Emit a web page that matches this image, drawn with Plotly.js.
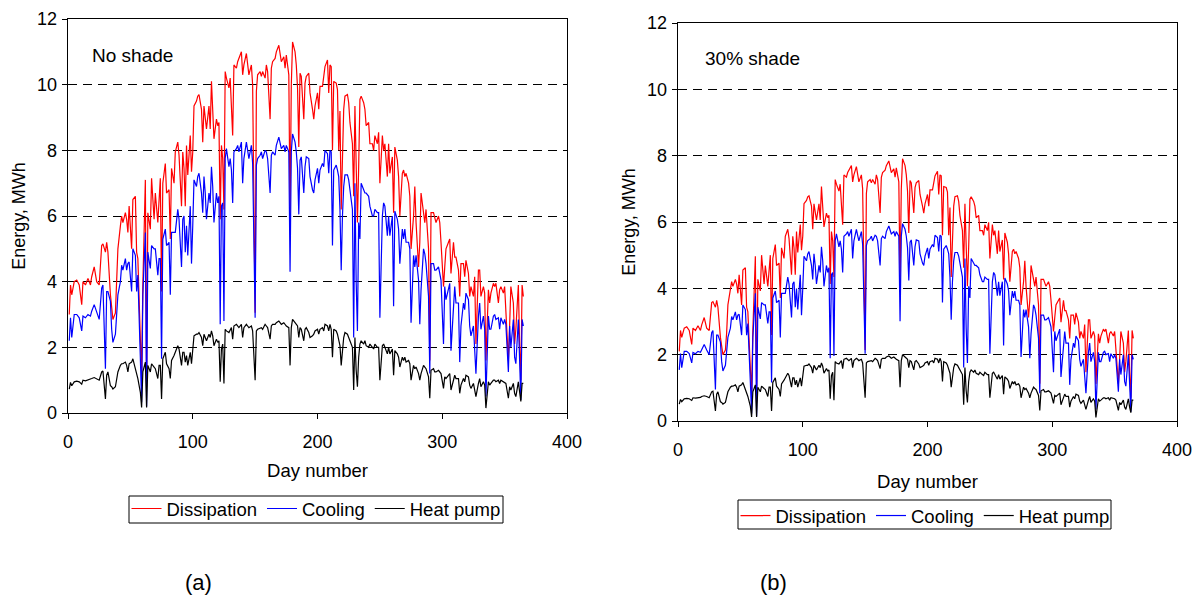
<!DOCTYPE html>
<html>
<head>
<meta charset="utf-8">
<script src="https://cdn.plot.ly/plotly-3.0.1.min.js"></script>
<style>html,body{margin:0;padding:0;background:#fff}#chart{width:1196px;height:598px}</style>
</head>
<body>
<div id="chart"></div>
<script>
// Day numbers (sample days)
const days = [
1,2,3,5,7,9,11,12,14,16,
18,19,21,23,25,27,28,30,31,32,
34,35,36,38,39,40,42,43,44,46,
47,48,49,51,52,54,55,56,58,59,
60,62,63,64,66,67,69,70,72,73,
74,75,76,78,79,81,82,83,85,86,
88,89,91,92,
93,94,95,96,98,99,100,101,103,104,
105,107,108,109,110,111,113,114,115,116,
117,119,120,121,122,123,124,125,126,127,
129,130,131,132,133,135,136,137,139,140,
141,143,144,145,147,148,150,151,152,154,
155,156,158,159,160,162,163,164,166,167,
169,170,171,173,174,175,177,178,179,180,
182,183,184,185,
186,187,189,190,191,193,194,196,197,198,
200,201,202,204,205,206,208,209,210,211,
212,213,215,216,217,218,219,220,221,222,
224,225,226,228,229,230,231,232,233,234,
235,237,238,239,241,242,244,245,246,248,
249,250,252,253,254,256,257,258,260,261,
262,264,265,266,268,269,270,271,273,274,
275,277,278,279,281,282,283,285,286,287,
289,290,291,293,294,295,297,298,299,301,
302,303,305,306,307,309,310,311,313,314,
315,317,318,319,321,322,323,325,326,327,
329,330,331,333,334,335,337,338,339,341,
342,343,345,346,347,349,350,351,353,354,
355,357,358,359,361,362,363,364,365];

// (a) No shade
const dissA = [
3.0,3.9,3.6,4.0,4.05,3.9,3.3,4.0,3.9,4.1,
3.9,4.15,4.45,4.0,3.9,5.1,5.15,4.9,5.2,4.9,
3.6,3.2,2.85,3.05,3.8,5.0,5.7,6.0,5.8,6.1,
5.9,5.5,6.3,5.0,6.5,6.6,4.9,4.7,2.25,1.25,
3.9,7.1,0.8,6.1,5.6,7.15,5.9,6.7,5.8,6.4,
7.15,3.7,7.0,7.6,6.7,6.8,5.3,7.45,7.0,7.95,
8.25,7.85,6.3,7.95,
7.45,6.3,8.15,7.25,8.45,7.35,7.95,9.35,9.5,9.65,
9.7,9.25,8.25,9.35,9.05,8.65,9.35,8.65,10.1,9.25,
8.35,8.95,8.75,8.85,5.9,8.15,7.75,6.2,10.4,10.2,
9.9,10.2,9.5,8.45,10.6,10.5,10.7,10.8,11.0,10.3,
10.6,10.95,10.7,10.3,10.6,10.0,3.05,9.8,10.3,10.4,
10.25,10.4,10.2,10.6,10.4,8.95,10.5,10.7,10.8,11.0,
11.2,10.9,10.7,10.85,10.5,10.9,10.3,6.0,10.0,11.3,
11.0,10.6,9.9,8.1,
10.35,10.25,8.95,10.05,10.25,10.35,9.75,9.25,8.95,9.35,
9.75,9.25,9.95,9.95,10.25,10.55,10.75,9.75,10.6,10.55,
8.0,10.1,10.05,9.85,8.0,9.2,6.2,7.9,9.25,9.65,
9.7,9.45,8.85,8.2,6.6,9.35,7.7,5.8,7.5,9.55,
9.65,9.45,9.25,8.75,8.85,8.2,8.2,8.0,8.45,8.2,
8.55,7.0,8.45,8.0,8.2,7.2,8.2,7.3,7.8,6.1,
8.1,7.7,7.2,6.0,7.3,7.4,7.2,7.3,7.0,6.6,
5.0,6.0,6.9,5.8,4.45,5.2,6.7,6.2,5.8,6.2,
5.0,1.6,6.1,6.1,5.9,5.8,6.0,5.8,5.2,3.85,
4.45,5.0,5.2,5.3,4.25,5.2,4.75,4.75,4.35,3.55,
4.55,4.55,4.15,4.65,4.25,3.55,3.85,3.55,4.15,2.1,
4.35,4.35,3.55,3.85,3.65,1.6,3.75,3.35,3.65,3.95,
3.85,3.95,3.35,3.75,3.85,3.65,3.85,3.15,1.6,2.65,
3.85,3.35,2.1,2.55,3.9,2.1,1.0,3.9,3.55];

const coolA = [
2.2,2.9,2.3,3.0,3.0,2.9,2.5,2.95,2.9,3.0,
2.95,3.1,3.3,3.05,2.85,3.8,3.9,1.35,3.7,3.7,
3.4,2.55,2.15,2.4,3.1,3.6,4.0,4.5,4.35,4.7,
4.35,4.55,4.6,3.7,5.0,4.8,3.7,4.2,1.65,0.33,
3.6,5.5,0.2,4.9,4.4,5.1,5.0,5.0,4.2,4.7,
4.7,1.65,5.3,5.6,5.1,5.2,3.6,5.5,5.5,5.5,
6.2,5.9,4.45,5.9,
6.0,4.9,5.7,4.8,6.3,4.55,5.7,7.1,6.9,7.2,
7.3,6.7,6.1,7.2,6.7,5.9,6.7,6.4,7.5,6.9,
5.8,6.7,6.4,6.6,2.7,6.3,6.4,2.8,7.75,8.05,
7.5,7.75,7.4,6.4,7.95,8.05,8.15,7.95,8.25,7.0,
7.75,8.25,8.0,7.75,8.15,7.6,2.9,7.55,7.75,7.85,
7.95,7.75,8.0,7.95,7.75,6.7,7.85,7.95,7.85,8.15,
8.4,8.25,8.05,8.15,7.95,8.15,7.95,4.3,7.95,8.5,
8.25,7.95,7.45,6.05,
7.7,7.8,6.7,7.5,7.8,7.75,7.2,6.8,6.7,7.1,
7.45,7.0,7.4,7.6,7.5,8.0,7.9,7.3,8.0,7.95,
5.1,7.4,7.55,7.4,7.2,6.2,4.35,6.0,6.9,7.25,
7.25,7.1,6.75,6.2,2.3,7.0,4.0,2.5,5.8,5.3,
7.0,6.8,6.7,6.7,6.6,6.3,6.0,6.0,6.2,6.1,
6.1,2.9,6.0,6.4,6.3,5.4,6.0,5.4,6.0,3.25,
6.15,5.9,5.6,4.55,5.6,5.3,5.6,5.2,5.2,5.0,
2.75,4.8,4.45,4.8,4.05,2.7,3.75,5.0,4.85,4.55,
3.55,1.2,4.55,4.55,4.35,4.35,4.45,4.25,4.05,2.1,
3.85,3.45,3.75,3.95,1.9,3.45,3.85,3.35,3.35,1.55,
2.65,3.35,3.15,3.65,3.45,2.65,2.35,2.65,1.95,1.2,
2.95,3.35,2.55,2.95,2.55,0.5,2.95,2.55,2.55,2.95,
3.0,2.85,2.9,2.55,2.9,2.7,2.85,2.7,1.25,2.65,
2.0,2.85,1.7,1.5,2.85,1.5,0.4,2.85,2.65];

const hpA = [
0.73,0.93,0.83,0.95,0.97,0.95,0.88,1.0,0.98,1.0,
1.02,1.05,1.08,1.05,1.0,1.25,1.28,0.43,1.15,1.25,
0.83,0.8,0.73,0.8,1.0,1.25,1.45,1.5,1.5,1.55,
1.45,1.25,1.5,1.55,1.65,1.35,1.2,1.05,0.63,0.17,
1.25,1.55,0.17,1.45,1.25,1.5,1.4,1.35,1.05,1.45,
1.45,0.43,1.65,1.85,1.5,1.35,1.05,1.6,1.75,1.85,
2.05,1.95,1.45,1.85,
1.85,1.55,1.75,1.45,1.85,1.5,1.85,2.35,2.4,2.4,
2.45,2.3,2.05,2.4,2.3,2.2,2.4,2.3,2.5,2.35,
2.05,2.25,2.15,2.2,0.95,1.95,2.1,0.9,2.55,2.5,
2.45,2.55,2.6,2.25,2.65,2.7,2.65,2.6,2.7,2.3,
2.6,2.7,2.65,2.6,2.65,2.5,1.0,2.5,2.55,2.6,
2.6,2.55,2.7,2.65,2.6,2.25,2.65,2.7,2.7,2.75,
2.8,2.75,2.7,2.75,2.7,2.65,2.6,1.45,2.6,2.85,
2.75,2.7,2.65,2.3,
2.6,2.55,2.2,2.55,2.6,2.45,2.3,2.35,2.4,2.5,
2.55,2.4,2.55,2.6,2.5,2.7,2.65,2.5,2.7,2.55,
1.7,2.55,2.5,2.4,2.2,2.05,1.45,2.0,2.3,2.45,
2.4,2.3,2.2,2.0,0.7,2.3,1.3,0.8,1.7,2.1,
2.2,2.1,2.2,2.05,2.0,2.1,2.0,1.95,2.1,2.0,
2.0,1.0,2.05,2.1,2.0,1.8,2.0,1.8,1.95,1.15,
1.9,1.8,1.7,1.4,1.7,1.6,1.7,1.55,1.6,1.5,
1.0,1.45,1.35,1.4,1.2,1.0,1.2,1.45,1.4,1.35,
1.1,0.45,1.3,1.35,1.25,1.25,1.3,1.25,1.2,0.75,
1.1,1.05,1.15,1.2,0.7,1.05,1.15,1.05,1.05,0.6,
0.85,1.05,0.95,1.15,1.1,0.85,0.75,0.9,0.7,0.5,
0.9,1.05,0.8,0.95,0.85,0.15,0.95,0.85,0.9,1.0,
1.0,0.95,1.0,0.9,1.0,0.95,0.95,0.9,0.45,0.8,
0.7,0.9,0.6,0.5,0.95,0.6,0.35,0.9,0.9];

// (b) 30% shade
const dissB = [
2.1,2.73,2.52,2.8,2.84,2.73,2.31,2.8,2.73,2.87,
2.73,2.9,3.12,2.8,2.73,3.57,3.6,3.43,3.64,3.43,
2.52,2.24,2.0,2.14,2.66,3.5,3.99,4.2,4.06,4.27,
4.13,3.85,4.41,3.5,4.55,4.62,3.43,3.29,1.58,0.88,
2.73,4.97,0.56,4.27,3.92,5.0,4.13,4.69,4.06,4.48,
5.0,2.59,4.9,5.32,4.69,4.76,3.71,5.22,4.9,5.57,
5.78,5.5,4.41,5.57,
5.22,4.41,5.71,5.08,5.92,5.15,5.57,6.55,6.65,6.76,
6.79,6.48,5.78,6.55,6.34,6.06,6.55,6.06,7.07,6.48,
5.85,6.27,6.13,6.2,4.13,5.71,5.43,4.34,7.28,7.14,
6.93,7.14,6.65,5.92,7.42,7.35,7.49,7.56,7.7,7.21,
7.42,7.67,7.49,7.21,7.42,7.0,2.14,6.86,7.21,7.28,
7.18,7.28,7.14,7.42,7.28,6.27,7.35,7.49,7.56,7.7,
7.84,7.63,7.49,7.6,7.35,7.63,7.21,4.2,7.0,7.91,
7.7,7.42,6.93,5.67,
7.25,7.18,6.27,7.04,7.18,7.25,6.83,6.48,6.27,6.55,
6.83,6.48,6.97,6.97,7.18,7.39,7.53,6.83,7.42,7.39,
5.6,7.07,7.04,6.9,5.6,6.44,4.34,5.53,6.48,6.76,
6.79,6.62,6.2,5.74,4.62,6.55,5.39,4.06,5.25,6.69,
6.76,6.62,6.48,6.13,6.2,5.74,5.74,5.6,5.92,5.74,
5.99,4.9,5.92,5.6,5.74,5.04,5.74,5.11,5.46,4.27,
5.67,5.39,5.04,4.2,5.11,5.18,5.04,5.11,4.9,4.62,
3.5,4.2,4.83,4.06,3.12,3.64,4.69,4.34,4.06,4.34,
3.5,1.12,4.27,4.27,4.13,4.06,4.2,4.06,3.64,2.7,
3.12,3.5,3.64,3.71,2.98,3.64,3.33,3.33,3.05,2.49,
3.19,3.19,2.91,3.26,2.98,2.49,2.7,2.49,2.91,1.47,
3.05,3.05,2.49,2.7,2.56,1.12,2.63,2.35,2.56,2.77,
2.7,2.77,2.35,2.63,2.7,2.56,2.7,2.21,1.12,1.86,
2.7,2.35,1.47,1.79,2.73,1.47,0.7,2.73,2.49];

const coolB = [
1.54,2.03,1.61,2.1,2.1,2.03,1.75,2.07,2.03,2.1,
2.07,2.17,2.31,2.14,2.0,2.66,2.73,0.95,2.59,2.59,
2.38,1.79,1.51,1.68,2.17,2.52,2.8,3.15,3.05,3.29,
3.05,3.19,3.22,2.59,3.5,3.36,2.59,2.94,1.16,0.23,
2.52,3.85,0.14,3.43,3.08,3.57,3.5,3.5,2.94,3.29,
3.29,1.16,3.71,3.92,3.57,3.64,2.52,3.85,3.85,3.85,
4.34,4.13,3.12,4.13,
4.2,3.43,3.99,3.36,4.41,3.19,3.99,4.97,4.83,5.04,
5.11,4.69,4.27,5.04,4.69,4.13,4.69,4.48,5.25,4.83,
4.06,4.69,4.48,4.62,1.89,4.41,4.48,1.96,5.43,5.64,
5.25,5.43,5.18,4.48,5.57,5.64,5.71,5.57,5.78,4.9,
5.43,5.78,5.6,5.43,5.71,5.32,2.03,5.29,5.43,5.5,
5.57,5.43,5.6,5.57,5.43,4.69,5.5,5.57,5.5,5.71,
5.88,5.78,5.64,5.71,5.57,5.71,5.57,3.01,5.57,5.95,
5.78,5.57,5.22,4.24,
5.39,5.46,4.69,5.25,5.46,5.43,5.04,4.76,4.69,4.97,
5.22,4.9,5.18,5.32,5.25,5.6,5.53,5.11,5.6,5.57,
3.57,5.18,5.29,5.18,5.04,4.34,3.05,4.2,4.83,5.08,
5.08,4.97,4.73,4.34,1.61,4.9,2.8,1.75,4.06,3.71,
4.9,4.76,4.69,4.69,4.62,4.41,4.2,4.2,4.34,4.27,
4.27,2.03,4.2,4.48,4.41,3.78,4.2,3.78,4.2,2.28,
4.31,4.13,3.92,3.19,3.92,3.71,3.92,3.64,3.64,3.5,
1.93,3.36,3.12,3.36,2.84,1.89,2.63,3.5,3.4,3.19,
2.49,0.84,3.19,3.19,3.05,3.05,3.12,2.98,2.84,1.47,
2.7,2.42,2.63,2.77,1.33,2.42,2.7,2.35,2.35,1.09,
1.86,2.35,2.21,2.56,2.42,1.86,1.65,1.86,1.37,0.84,
2.07,2.35,1.79,2.07,1.79,0.35,2.07,1.79,1.79,2.07,
2.1,2.0,2.03,1.79,2.03,1.89,2.0,1.89,0.88,1.86,
1.4,2.0,1.19,1.05,2.0,1.05,0.28,2.0,1.86];

const hpB = [
0.51,0.65,0.58,0.67,0.68,0.67,0.62,0.7,0.69,0.7,
0.71,0.74,0.76,0.74,0.7,0.88,0.9,0.3,0.81,0.88,
0.58,0.56,0.51,0.56,0.7,0.88,1.02,1.05,1.05,1.09,
1.02,0.88,1.05,1.09,1.16,0.95,0.84,0.74,0.44,0.12,
0.88,1.09,0.12,1.02,0.88,1.05,0.98,0.95,0.74,1.02,
1.02,0.3,1.16,1.3,1.05,0.95,0.74,1.12,1.23,1.3,
1.44,1.37,1.02,1.3,
1.3,1.09,1.23,1.02,1.3,1.05,1.3,1.65,1.68,1.68,
1.72,1.61,1.44,1.68,1.61,1.54,1.68,1.61,1.75,1.65,
1.44,1.58,1.51,1.54,0.67,1.37,1.47,0.63,1.79,1.75,
1.72,1.79,1.82,1.58,1.86,1.89,1.86,1.82,1.89,1.61,
1.82,1.89,1.86,1.82,1.86,1.75,0.7,1.75,1.79,1.82,
1.82,1.79,1.89,1.86,1.82,1.58,1.86,1.89,1.89,1.93,
1.96,1.93,1.89,1.93,1.89,1.86,1.82,1.02,1.82,2.0,
1.93,1.89,1.86,1.61,
1.82,1.79,1.54,1.79,1.82,1.72,1.61,1.65,1.68,1.75,
1.79,1.68,1.79,1.82,1.75,1.89,1.86,1.75,1.89,1.79,
1.19,1.79,1.75,1.68,1.54,1.44,1.02,1.4,1.61,1.72,
1.68,1.61,1.54,1.4,0.49,1.61,0.91,0.56,1.19,1.47,
1.54,1.47,1.54,1.44,1.4,1.47,1.4,1.37,1.47,1.4,
1.4,0.7,1.44,1.47,1.4,1.26,1.4,1.26,1.37,0.81,
1.33,1.26,1.19,0.98,1.19,1.12,1.19,1.09,1.12,1.05,
0.7,1.02,0.95,0.98,0.84,0.7,0.84,1.02,0.98,0.95,
0.77,0.32,0.91,0.95,0.88,0.88,0.91,0.88,0.84,0.53,
0.77,0.74,0.81,0.84,0.49,0.74,0.81,0.74,0.74,0.42,
0.6,0.74,0.67,0.81,0.77,0.6,0.53,0.63,0.49,0.35,
0.63,0.74,0.56,0.67,0.6,0.11,0.67,0.6,0.63,0.7,
0.7,0.67,0.7,0.63,0.7,0.67,0.67,0.63,0.32,0.56,
0.49,0.63,0.42,0.35,0.67,0.42,0.25,0.63,0.63];

const seriesNames = ['Dissipation', 'Cooling', 'Heat pump'];
const seriesColors = ['#ff0000', '#0000ff', '#000000'];
const panelLabels = ['No shade', '30% shade'];
const panelTags = ['(a)', '(b)'];

const FONT = 'Liberation Sans, Arial, sans-serif';
const panelA = [dissA, coolA, hpA];
const panelB = [dissB, coolB, hpB];

const traces = [];
panelA.forEach((ys, i) => traces.push({
  x: days, y: ys, type: 'scatter', mode: 'lines', name: seriesNames[i],
  line: {color: seriesColors[i], width: 1.2}, xaxis: 'x', yaxis: 'y', legend: 'legend'
}));
panelB.forEach((ys, i) => traces.push({
  x: days, y: ys, type: 'scatter', mode: 'lines', name: seriesNames[i],
  line: {color: seriesColors[i], width: 1.2}, xaxis: 'x2', yaxis: 'y2', legend: 'legend2'
}));

function xax(domain, anchor, standoff) {
  return {
    domain: domain, anchor: anchor, range: [0, 400], tick0: 0, dtick: 100,
    showgrid: false, zeroline: false, showline: true, mirror: true,
    linecolor: '#000', linewidth: 1.3, ticks: 'outside', ticklen: 5, tickcolor: '#000',
    ticklabelstandoff: 7,
    tickfont: {family: FONT, size: 18, color: '#000'},
    title: {text: 'Day number', font: {family: FONT, size: 18.5, color: '#000'}, standoff: standoff},
    automargin: false
  };
}
function yax(domain, anchor) {
  return {
    domain: domain, anchor: anchor, range: [0, 12], tick0: 0, dtick: 2,
    showgrid: true, gridcolor: '#000', gridwidth: 1, griddash: '9px,6px',
    zeroline: false, showline: true, mirror: true,
    linecolor: '#000', linewidth: 1.3, ticks: 'outside', ticklen: 5, tickcolor: '#000',
    ticklabelstandoff: 1,
    tickfont: {family: FONT, size: 18, color: '#000'},
    title: {text: 'Energy, MWh', font: {family: FONT, size: 18, color: '#000'}, standoff: 6},
    automargin: false
  };
}

const legendBase = {
  orientation: 'h', xanchor: 'center', yanchor: 'top',
  borderwidth: 0, bgcolor: 'rgba(0,0,0,0)',
  font: {family: FONT, size: 18.5, color: '#000'}, itemwidth: 30, tracegroupgap: 0
};

function box(x0, x1, y0, y1) {
  return {type: 'rect', xref: 'paper', yref: 'paper',
    x0: x0 / 1196, x1: x1 / 1196, y0: 1 - y1 / 598, y1: 1 - y0 / 598,
    line: {color: '#000', width: 1}, fillcolor: 'rgba(0,0,0,0)', layer: 'below'};
}

const layout = {
  width: 1196, height: 598,
  margin: {l: 0, r: 0, t: 0, b: 0},
  paper_bgcolor: '#fff', plot_bgcolor: '#fff',
  font: {family: FONT, size: 18, color: '#000'},
  showlegend: true,
  xaxis: xax([68/1196, 567/1196], 'y', 13),
  yaxis: yax([1 - 413/598, 1 - 19/598], 'x'),
  xaxis2: xax([678/1196, 1177/1196], 'y2', 16),
  yaxis2: yax([1 - 421/598, 1 - 23/598], 'x2'),
  legend: Object.assign({}, legendBase, {x: 316/1196, y: 1 - 490/598}),
  legend2: Object.assign({}, legendBase, {x: 925/1196, y: 1 - 497/598}),
  shapes: [box(129, 503, 496, 523), box(738, 1111, 500, 529)],
  annotations: [
    {text: panelLabels[0], xref: 'paper', yref: 'paper', x: 90/1196, y: 1 - 56/598,
     xanchor: 'left', yanchor: 'middle', showarrow: false, font: {family: FONT, size: 19, color: '#000'}},
    {text: panelLabels[1], xref: 'paper', yref: 'paper', x: 703/1196, y: 1 - 58/598,
     xanchor: 'left', yanchor: 'middle', showarrow: false, font: {family: FONT, size: 19, color: '#000'}},
    {text: panelTags[0], xref: 'paper', yref: 'paper', x: 198/1196, y: 1 - 582/598,
     xanchor: 'center', yanchor: 'middle', showarrow: false, font: {family: FONT, size: 22, color: '#000'}},
    {text: panelTags[1], xref: 'paper', yref: 'paper', x: 773/1196, y: 1 - 582/598,
     xanchor: 'center', yanchor: 'middle', showarrow: false, font: {family: FONT, size: 22, color: '#000'}}
  ]
};

Plotly.newPlot('chart', traces, layout, {staticPlot: true, displayModeBar: false});
</script>
</body>
</html>
